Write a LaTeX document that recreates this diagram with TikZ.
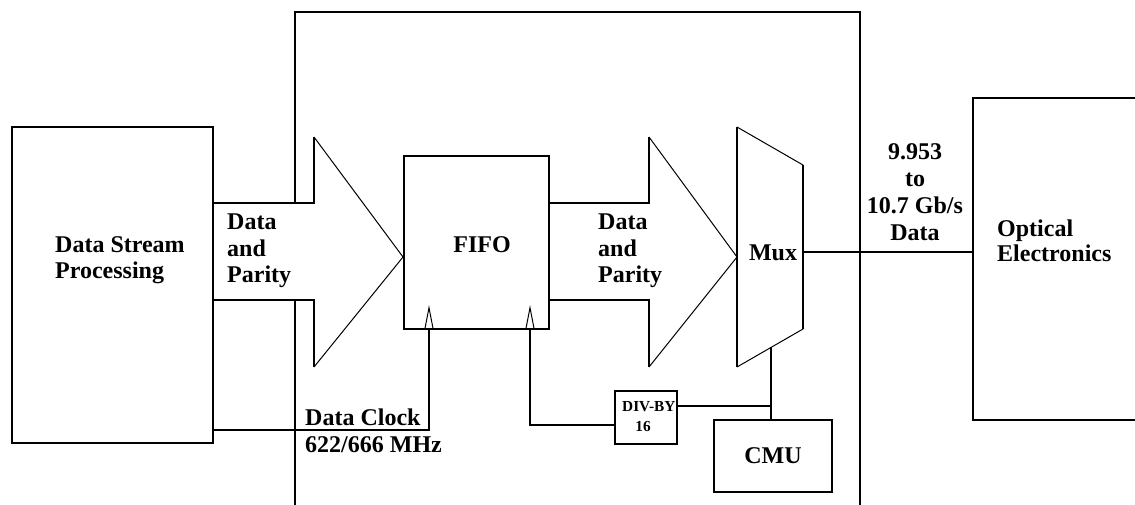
\documentclass[tikz,border=0pt]{standalone}
\usepackage{fontspec}
\setmainfont{Liberation Serif}
\usetikzlibrary{arrows.meta}
\tikzset{
  thick2/.style={line width=2pt},
  thin1/.style={line width=1pt},
  boxnode/.style={draw, line width=2pt, inner sep=0pt},
  lbl/.style={inner sep=0pt, font=\fontsize{24}{26.5}\selectfont\bfseries},
  smalllbl/.style={inner sep=0pt, font=\fontsize{15.3}{17}\selectfont\bfseries},
  clk/.style={line width=2pt, -{Triangle[open, length=24pt, width=9pt, line width=1pt]}}
}
\begin{document}
\begin{tikzpicture}[x=1pt, y=-1pt]
\useasboundingbox (0,0) rectangle (1135,504);
% boxes
\node[boxnode, minimum width=201pt, minimum height=316pt] (dsp) at (112.5,285) {};
\node[boxnode, minimum width=145pt, minimum height=173pt] (fifo) at (476.5,242.5) {};
\node[boxnode, minimum width=62pt, minimum height=53pt] (div) at (646,417.5) {};
\node[boxnode, minimum width=118pt, minimum height=72pt] (cmu) at (773,456) {};
% optical box (open right side)
\coordinate (optl) at (973,252);
\draw[thick2] (1136,97.5) -- (973,97.5) -- (973,420) -- (1136,420);
% frame
\draw[thick2] (295,203) -- (295,12) -- (860,12) -- (860,505);
\draw[thick2] (295,300) -- (295,505);
% arrow 1
\draw[thick2] (dsp.east |- 0,203) -- (314,203) -- (314,137);
\draw[thick2] (dsp.east |- 0,300) -- (314,300) -- (314,367);
\draw[thin1] (314,137) -- (fifo.west |- 0,257) -- (314,367);
% arrow 2
\draw[thick2] (fifo.east |- 0,203) -- (649,203) -- (649,137);
\draw[thick2] (fifo.east |- 0,300) -- (649,300) -- (649,367);
\draw[thin1] (649,137) -- (737,257) -- (649,367);
% mux
\coordinate (muxbot) at (771,347.4);
\coordinate (muxout) at (803,252);
\draw[thick2] (737,367) -- (737,127);
\draw[thin1] (737,127) -- (803,165);
\draw[thick2] (803,165) -- (803,329);
\draw[thin1] (803,329) -- (737,367);
\node[lbl] (mux) at (773,253) {Mux};
% connections
\draw[thick2] (muxout) -- (optl);
\draw[thick2] (muxbot) -- (cmu.north -| muxbot);
\coordinate (divj) at (771,406);
\draw[thick2] (div.east |- divj) -- (divj);
\coordinate (clk1) at (429,430);
\coordinate (clk2) at (530,425);
\draw[clk] (dsp.east |- clk1) -- (clk1) -- (429,305);
\draw[clk] (div.west |- clk2) -- (clk2) -- (530,305);
% labels
\node[lbl, align=left, anchor=west] (dsptxt) at (55,260) {Data Stream\\Processing};
\node[lbl, align=left, anchor=west] (dp1) at (227,251) {Data\\and\\Parity};
\node[lbl, align=left, anchor=west] (dp2) at (598,251) {Data\\and\\Parity};
\node[lbl] (fifotxt) at (482,245) {FIFO};
\node[lbl, align=left, anchor=west] (clktxt) at (305,431) {Data Clock\\622/666 MHz};
\node[lbl, align=center, font=\fontsize{24}{27}\selectfont\bfseries] (rate) at (915,192.5) {9.953\\to\\10.7 Gb/s\\Data};
\node[lbl, align=left, anchor=west, font=\fontsize{24}{24.5}\selectfont\bfseries] (opttxt) at (997,241) {Optical\\Electronics};
\node[smalllbl, anchor=west] (divtxt1) at (622,407) {DIV-BY};
\node[smalllbl] (divtxt2) at (643,427) {16};
\node[lbl] (cmutxt) at (773,456) {CMU};
\end{tikzpicture}
\end{document}
